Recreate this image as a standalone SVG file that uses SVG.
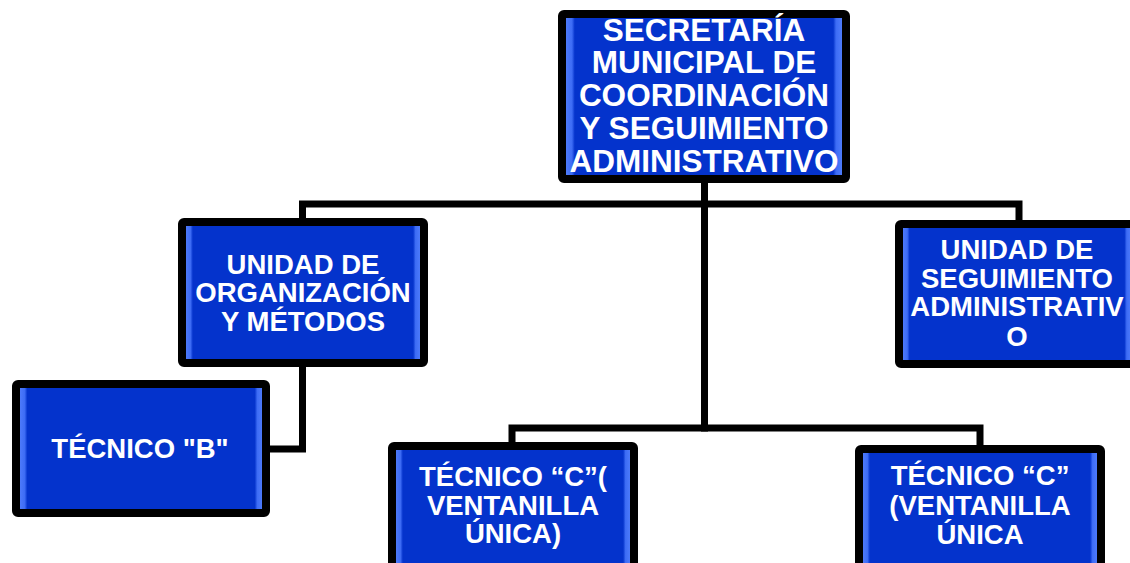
<svg xmlns="http://www.w3.org/2000/svg" width="1130" height="563" viewBox="0 0 1130 563">
<defs>
<linearGradient id="bevel" x1="0" y1="0" x2="1" y2="0">
<stop offset="0" stop-color="#5a86ff"/>
<stop offset="0.035" stop-color="#3d6cf5"/>
<stop offset="0.045" stop-color="#0433cc"/>
<stop offset="0.955" stop-color="#0433cc"/>
<stop offset="0.965" stop-color="#3d6cf5"/>
<stop offset="1" stop-color="#5a86ff"/>
</linearGradient>
</defs>
<style>
.box{fill:url(#bevel);stroke:#000;stroke-width:8;}
.t{font-family:"Liberation Sans",Arial,sans-serif;font-weight:bold;fill:#fff;text-anchor:middle;}
.big{font-size:31.5px;}
.sm{font-size:27.5px;}
.conn{fill:none;stroke:#000;stroke-width:7;stroke-linejoin:miter;stroke-linecap:square;}
</style>
<rect width="1130" height="563" fill="#fff"/>
<g id="connectors">
<path class="conn" d="M704.5 183 V428"/>
<path class="conn" d="M302.5 218 V204 H1019 V220"/>
<path class="conn" d="M512 442 V428 H980 V445"/>
<path class="conn" d="M302.5 367 V449 H270"/>
</g>
<g id="n1">
<rect class="box" x="562" y="14" width="284" height="165" rx="2"/>
<text class="t big" x="704" y="41">SECRETARÍA</text>
<text class="t big" x="704" y="73">MUNICIPAL DE</text>
<text class="t big" x="704" y="106">COORDINACIÓN</text>
<text class="t big" x="704" y="139">Y SEGUIMIENTO</text>
<text class="t big" x="704" y="172">ADMINISTRATIVO</text>
</g>
<g id="n2">
<rect class="box" x="182" y="222" width="242" height="141" rx="2"/>
<text class="t sm" x="303" y="274">UNIDAD DE</text>
<text class="t sm" x="303" y="302">ORGANIZACIÓN</text>
<text class="t sm" x="303" y="331">Y MÉTODOS</text>
</g>
<g id="n3">
<rect class="box" x="899" y="224" width="236" height="140" rx="2"/>
<text class="t sm" x="1017" y="259">UNIDAD DE</text>
<text class="t sm" x="1017" y="288">SEGUIMIENTO</text>
<text class="t sm" x="1017" y="316">ADMINISTRATIV</text>
<text class="t sm" x="1017" y="346">O</text>
</g>
<g id="n4">
<rect class="box" x="16" y="384" width="250" height="129" rx="2"/>
<text class="t sm" x="140" y="458">TÉCNICO "B"</text>
</g>
<g id="n5">
<rect class="box" x="392" y="446" width="242" height="130" rx="2"/>
<text class="t sm" x="513" y="486">TÉCNICO “C”(</text>
<text class="t sm" x="513" y="515">VENTANILLA</text>
<text class="t sm" x="513" y="543">ÚNICA)</text>
</g>
<g id="n6">
<rect class="box" x="859" y="449" width="242" height="130" rx="2"/>
<text class="t sm" x="980" y="485">TÉCNICO “C”</text>
<text class="t sm" x="980" y="515">(VENTANILLA</text>
<text class="t sm" x="980" y="544">ÚNICA</text>
</g>
</svg>
